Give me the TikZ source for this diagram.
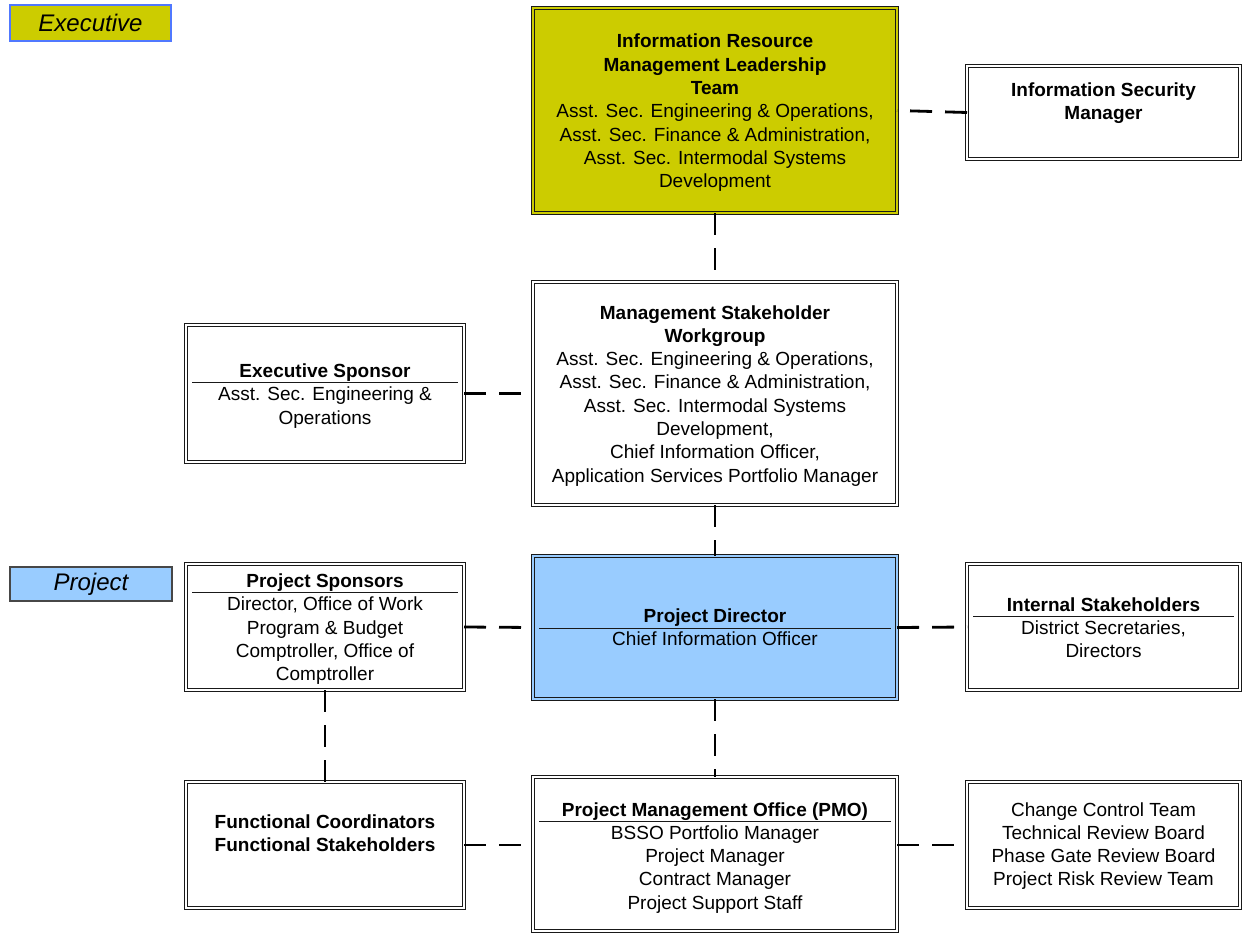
\documentclass[tikz,border=0pt]{standalone}
\usepackage{fontspec}
\setmainfont{Liberation Sans}
\definecolor{execyellow}{RGB}{204,204,0}
\definecolor{projblue}{RGB}{153,204,255}
\definecolor{tagblue}{RGB}{80,120,255}
\definecolor{boxline}{RGB}{25,25,25}
\newcommand\boxlines[1]{\begin{tabular}[t]{@{}c@{}}#1\end{tabular}}
\tikzset{
  box/.style={rectangle, draw=boxline, line width=1.2pt, double distance=2.4pt,
              inner sep=0pt, outer sep=0pt},
  whitebox/.style={box, double=white},
  yellowbox/.style={box, fill=execyellow, double=execyellow},
  bluebox/.style={box, fill=projblue, double=projblue},
  link/.style={draw=black, line width=2.8pt, dash pattern=on 22pt off 13pt},
  sepline/.style={draw=boxline, line width=0.9pt},
  txt/.style={anchor=base, inner sep=0pt, font=\fontsize{19}{23.3}\selectfont},
  tag/.style={rectangle, inner sep=0pt, line width=1.2pt,
              font=\fontsize{24}{28}\selectfont\itshape}
}
\begin{document}
\begin{tikzpicture}[x=1pt,y=-1pt]
\useasboundingbox (0,0) rectangle (1243,934);

% level tags
\node[tag, fill=execyellow, draw=tagblue, minimum width=161, minimum height=36] (exectag) at (90.5,23) {Executive};
\node[tag, fill=projblue, draw=boxline!80, minimum width=162, minimum height=34] (projtag) at (91,584) {Project};

% boxes
\node[yellowbox, minimum width=364, minimum height=205] (irm) at (715,110.5) {};
\node[whitebox, minimum width=273, minimum height=93] (ism) at (1103.5,112.5) {};
\node[whitebox, minimum width=364, minimum height=223] (msw) at (715,393.5) {};
\node[whitebox, minimum width=278, minimum height=137] (es) at (325,393.5) {};
\node[whitebox, minimum width=278, minimum height=126] (ps) at (325,627) {};
\node[bluebox, minimum width=364, minimum height=143] (pd) at (715,627.5) {};
\node[whitebox, minimum width=273, minimum height=126] (is) at (1103.5,627) {};
\node[whitebox, minimum width=278, minimum height=126] (fc) at (325,845) {};
\node[whitebox, minimum width=364, minimum height=154] (pmo) at (715,854) {};
\node[whitebox, minimum width=273, minimum height=126] (cct) at (1103.5,845) {};

% box texts
\node[txt] (irmt) at (715,48) {\boxlines{\textbf{Information Resource}\\ \textbf{Management Leadership}\\ \textbf{Team}\\
  Asst. Sec. Engineering \& Operations,\\ Asst. Sec. Finance \& Administration,\\ Asst. Sec. Intermodal Systems\\ Development}};
\node[txt] (ismt) at (1103.5,96) {\boxlines{\textbf{Information Security}\\ \textbf{Manager}}};
\node[txt] (mswt) at (715,319) {\boxlines{\textbf{Management Stakeholder}\\ \textbf{Workgroup}\\
  Asst. Sec. Engineering \& Operations,\\ Asst. Sec. Finance \& Administration,\\ Asst. Sec. Intermodal Systems\\
  Development,\\ Chief Information Officer,\\ Application Services Portfolio Manager}};
\node[txt] (est) at (325,377.5) {\boxlines{\textbf{Executive Sponsor}\\ Asst. Sec. Engineering \&\\ Operations}};
\node[txt] (pst) at (325,587.5) {\boxlines{\textbf{Project Sponsors}\\ Director, Office of Work\\ Program \& Budget\\
  Comptroller, Office of\\ Comptroller}};
\node[txt] (pdt) at (715,622) {\boxlines{\textbf{Project Director}\\ Chief Information Officer}};
\node[txt] (ist) at (1103.5,611) {\boxlines{\textbf{Internal Stakeholders}\\ District Secretaries,\\ Directors}};
\node[txt] (fct) at (325,828) {\boxlines{\textbf{Functional Coordinators}\\ \textbf{Functional Stakeholders}}};
\node[txt] (pmot) at (715,816) {\boxlines{\textbf{Project Management Office (PMO)}\\ BSSO Portfolio Manager\\
  Project Manager\\ Contract Manager\\ Project Support Staff}};
\node[txt] (cctt) at (1103.5,816) {\boxlines{Change Control Team\\ Technical Review Board\\
  Phase Gate Review Board\\ Project Risk Review Team}};

% title rules under the bold headings
\draw[sepline] (192,382) -- (458,382);
\draw[sepline] (192,592) -- (458,592);
\draw[sepline] (539,628) -- (891,628);
\draw[sepline] (973,616) -- (1234,616);
\draw[sepline] (539,821) -- (891,821);

% dashed reporting lines
\draw[link] (ism.west) -- (irm.east);
\draw[link] (irm.south) -- (msw.north);
\draw[link] (es.east) -- (msw.west);
\draw[link] (msw.south) -- (pd.north);
\draw[link] (ps.east) -- (pd.west);
\draw[link] (pd.east) -- (is.west);
\draw[link] (ps.south) -- (fc.north);
\draw[link] (pd.south) -- (pmo.north);
\draw[link] (fc.east) -- (fc.east -| pmo.west);
\draw[link] (pmo.east |- cct.west) -- (cct.west);
\end{tikzpicture}
\end{document}
